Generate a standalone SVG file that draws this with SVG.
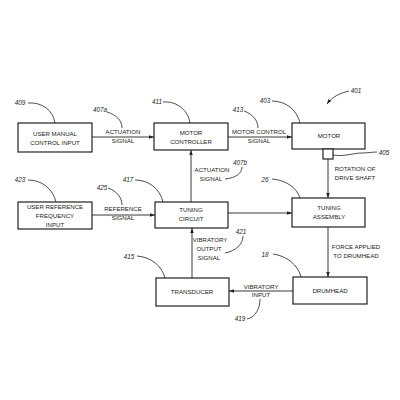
<svg xmlns="http://www.w3.org/2000/svg" width="400" height="400" viewBox="0 0 400 400">
<defs>
<style>
.box{fill:#fff;stroke:#222;stroke-width:1.2}
.t{font-family:"Liberation Sans",Arial,sans-serif;font-size:6.1px;fill:#222;text-anchor:middle}
.n{font-family:"Liberation Sans",Arial,sans-serif;font-size:6.3px;font-style:italic;fill:#222;text-anchor:middle}
.c{fill:none;stroke:#222;stroke-width:0.9}
.lead{fill:none;stroke:#222;stroke-width:0.8}
</style>
<marker id="ah" viewBox="0 0 10 10" refX="10" refY="5" markerWidth="5" markerHeight="5" orient="auto" markerUnits="userSpaceOnUse">
<path d="M0,1.5 L10,5 L0,8.5 Z" fill="#222"/>
</marker>
</defs>
<rect width="400" height="400" fill="#fff"/>

<g id="connectors">
<line class="c" x1="92" y1="137" x2="154" y2="137" marker-end="url(#ah)"/>
<line class="c" x1="228" y1="137" x2="292" y2="137" marker-end="url(#ah)"/>
<line class="c" x1="191" y1="202" x2="191" y2="150" marker-end="url(#ah)"/>
<line class="c" x1="92" y1="215" x2="155" y2="215" marker-end="url(#ah)"/>
<line class="c" x1="228" y1="213" x2="292" y2="213" marker-end="url(#ah)"/>
<line class="c" x1="328" y1="159" x2="328" y2="198" marker-end="url(#ah)"/>
<line class="c" x1="328" y1="227" x2="328" y2="277" marker-end="url(#ah)"/>
<line class="c" x1="293" y1="291" x2="229" y2="291" marker-end="url(#ah)"/>
<line class="c" x1="192" y1="278" x2="192" y2="228" marker-end="url(#ah)"/>
<text class="t" x="123" y="134">ACTUATION</text>
<text class="t" x="123" y="143">SIGNAL</text>
<text class="t" x="259" y="134">MOTOR CONTROL</text>
<text class="t" x="259" y="143">SIGNAL</text>
<text class="t" x="212" y="172">ACTUATION</text>
<text class="t" x="211" y="181">SIGNAL</text>
<text class="t" x="355" y="171">ROTATION OF</text>
<text class="t" x="355" y="180">DRIVE SHAFT</text>
<text class="t" x="123" y="211">REFERENCE</text>
<text class="t" x="123" y="220">SIGNAL</text>
<text class="t" x="210" y="242">VIBRATORY</text>
<text class="t" x="209" y="251">OUTPUT</text>
<text class="t" x="209" y="260">SIGNAL</text>
<text class="t" x="356" y="249">FORCE APPLIED</text>
<text class="t" x="356" y="258">TO DRUMHEAD</text>
<text class="t" x="261" y="289">VIBRATORY</text>
<text class="t" x="261" y="297">INPUT</text>
<path class="lead" d="M107,112 C117,115 122,121 122,128"/>
<text class="n" x="100" y="112">407a</text>
<path class="lead" d="M244,111 C253,114 258,121 258,128"/>
<text class="n" x="238" y="112">413</text>
<path class="lead" d="M242,167 C242,173 236,178 225,179"/>
<text class="n" x="240" y="165">407b</text>
<path class="lead" d="M108,188 C117,191 122,198 122,205"/>
<text class="n" x="102" y="190">425</text>
<path class="lead" d="M243,236 C243,244 236,251 225,253"/>
<text class="n" x="241" y="234">421</text>
<path class="lead" d="M247,319 C256,317 260,308 260,299"/>
<text class="n" x="240" y="321">419</text>
</g>

<g id="n409">
<rect class="box" x="18" y="123" width="74" height="29"/>
<text class="t" x="55" y="136">USER MANUAL</text>
<text class="t" x="55" y="145">CONTROL INPUT</text>
<path class="lead" d="M28,103 C42,102 53,110 55,123"/>
<text class="n" x="20" y="105">409</text>
</g>

<g id="n411">
<rect class="box" x="154" y="123" width="74" height="27"/>
<text class="t" x="191" y="135">MOTOR</text>
<text class="t" x="191" y="144">CONTROLLER</text>
<path class="lead" d="M163,102 C177,101 188,110 190,123"/>
<text class="n" x="157" y="104">411</text>
</g>

<g id="n403">
<rect class="box" x="292" y="123" width="73" height="26"/>
<text class="t" x="329" y="138">MOTOR</text>
<path class="lead" d="M272,101 C286,101 297,110 300,123"/>
<text class="n" x="265" y="103">403</text>
</g>

<g id="n405">
<rect class="box" x="323" y="149" width="10" height="10"/>
<path class="lead" d="M333,155 C345,157 352,153 362,153 C368,153 372,152 377,152"/>
<text class="n" x="384" y="155">405</text>
</g>

<g id="n401">
<path class="lead" d="M349,91 C340,93 332,97 327,104" marker-end="url(#ah)"/>
<text class="n" x="356" y="93">401</text>
</g>

<g id="n423">
<rect class="box" x="18" y="202" width="74" height="27"/>
<text class="t" x="55" y="209">USER REFERENCE</text>
<text class="t" x="55" y="218">FREQUENCY</text>
<text class="t" x="55" y="227">INPUT</text>
<path class="lead" d="M28,180 C42,180 53,189 56,202"/>
<text class="n" x="20" y="182">423</text>
</g>

<g id="n417">
<rect class="box" x="155" y="202" width="73" height="26"/>
<text class="t" x="191" y="212">TUNING</text>
<text class="t" x="191" y="221">CIRCUIT</text>
<path class="lead" d="M135,180 C149,180 160,189 163,202"/>
<text class="n" x="128" y="182">417</text>
</g>

<g id="n26">
<rect class="box" x="292" y="198" width="73" height="29"/>
<text class="t" x="329" y="210">TUNING</text>
<text class="t" x="329" y="219">ASSEMBLY</text>
<path class="lead" d="M272,179 C286,180 297,188 300,198"/>
<text class="n" x="265" y="182">26</text>
</g>

<g id="n415">
<rect class="box" x="156" y="278" width="73" height="28"/>
<text class="t" x="192" y="294">TRANSDUCER</text>
<path class="lead" d="M137,256 C151,257 162,266 165,278"/>
<text class="n" x="129" y="259">415</text>
</g>

<g id="n18">
<rect class="box" x="293" y="277" width="74" height="27"/>
<text class="t" x="330" y="293">DRUMHEAD</text>
<path class="lead" d="M273,254 C287,256 298,265 301,277"/>
<text class="n" x="265" y="257">18</text>
</g>
</svg>
